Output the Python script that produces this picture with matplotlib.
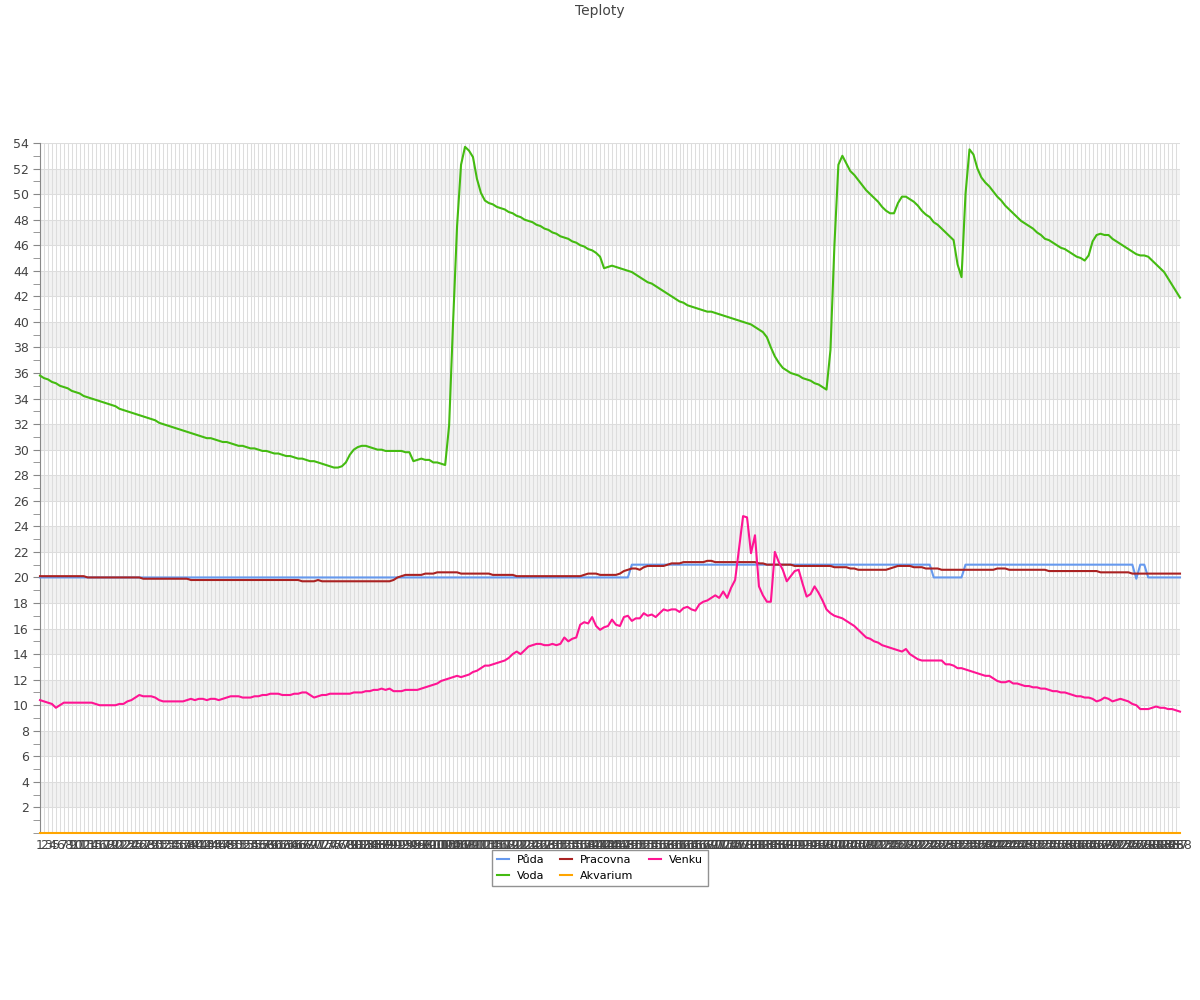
import matplotlib
matplotlib.use("Agg")
import matplotlib.pyplot as plt
import numpy as np
from matplotlib.ticker import MultipleLocator

plt.rcParams["font.family"] = "DejaVu Sans"

TEXT = "#444444"
GRID = "#dddddd"
BAND = "#f2f2f2"

LABELS = [str(i) for i in range(1, 289)]

VODA = [
    35.8, 35.6, 35.5, 35.3, 35.2, 35.0, 34.9, 34.8, 34.6, 34.5,
    34.4, 34.2, 34.1, 34.0, 33.9, 33.8, 33.7, 33.6, 33.5, 33.4,
    33.2, 33.1, 33.0, 32.9, 32.8, 32.7, 32.6, 32.5, 32.4, 32.3,
    32.1, 32.0, 31.9, 31.8, 31.7, 31.6, 31.5, 31.4, 31.3, 31.2,
    31.1, 31.0, 30.9, 30.9, 30.8, 30.7, 30.6, 30.6, 30.5, 30.4,
    30.3, 30.3, 30.2, 30.1, 30.1, 30.0, 29.9, 29.9, 29.8, 29.7,
    29.7, 29.6, 29.5, 29.5, 29.4, 29.3, 29.3, 29.2, 29.1, 29.1,
    29.0, 28.9, 28.8, 28.7, 28.6, 28.6, 28.7, 29.0, 29.6, 30.0,
    30.2, 30.3, 30.3, 30.2, 30.1, 30.0, 30.0, 29.9, 29.9, 29.9,
    29.9, 29.9, 29.8, 29.8, 29.1, 29.2, 29.3, 29.2, 29.2, 29.0,
    29.0, 28.9, 28.8, 31.9, 40.0, 47.5, 52.3, 53.7, 53.4, 52.9,
    51.2, 50.1, 49.5, 49.3, 49.2, 49.0, 48.9, 48.8, 48.6, 48.5,
    48.3, 48.2, 48.0, 47.9, 47.8, 47.6, 47.5, 47.3, 47.2, 47.0,
    46.9, 46.7, 46.6, 46.5, 46.3, 46.2, 46.0, 45.9, 45.7, 45.6,
    45.4, 45.1, 44.2, 44.3, 44.4, 44.3, 44.2, 44.1, 44.0, 43.9,
    43.7, 43.5, 43.3, 43.1, 43.0, 42.8, 42.6, 42.4, 42.2, 42.0,
    41.8, 41.6, 41.5, 41.3, 41.2, 41.1, 41.0, 40.9, 40.8, 40.8,
    40.7, 40.6, 40.5, 40.4, 40.3, 40.2, 40.1, 40.0, 39.9, 39.8,
    39.6, 39.4, 39.2, 38.8, 38.0, 37.3, 36.8, 36.4, 36.2, 36.0,
    35.9, 35.8, 35.6, 35.5, 35.4, 35.2, 35.1, 34.9, 34.7, 37.8,
    46.0, 52.3, 53.0, 52.4, 51.8, 51.5, 51.1, 50.7, 50.3, 50.0,
    49.7, 49.4, 49.0, 48.7, 48.5, 48.5, 49.3, 49.8, 49.8, 49.6,
    49.4, 49.1, 48.7, 48.4, 48.2, 47.8, 47.6, 47.3, 47.0, 46.7,
    46.4, 44.5, 43.5, 50.0, 53.5, 53.1, 52.0, 51.3, 50.9, 50.6,
    50.2, 49.8, 49.5, 49.1, 48.8, 48.5, 48.2, 47.9, 47.7, 47.5,
    47.3, 47.0, 46.8, 46.5, 46.4, 46.2, 46.0, 45.8, 45.7, 45.5,
    45.3, 45.1, 45.0, 44.8, 45.2, 46.3, 46.8, 46.9, 46.8, 46.8,
    46.5, 46.3, 46.1, 45.9, 45.7, 45.5, 45.3, 45.2, 45.2, 45.1,
    44.8, 44.5, 44.2, 43.9, 43.4, 42.9, 42.4, 41.9,
]

VENKU = [
    10.4, 10.3, 10.2, 10.1, 9.8, 10.0, 10.2, 10.2, 10.2, 10.2,
    10.2, 10.2, 10.2, 10.2, 10.1, 10.0, 10.0, 10.0, 10.0, 10.0,
    10.1, 10.1, 10.3, 10.4, 10.6, 10.8, 10.7, 10.7, 10.7, 10.6,
    10.4, 10.3, 10.3, 10.3, 10.3, 10.3, 10.3, 10.4, 10.5, 10.4,
    10.5, 10.5, 10.4, 10.5, 10.5, 10.4, 10.5, 10.6, 10.7, 10.7,
    10.7, 10.6, 10.6, 10.6, 10.7, 10.7, 10.8, 10.8, 10.9, 10.9,
    10.9, 10.8, 10.8, 10.8, 10.9, 10.9, 11.0, 11.0, 10.8, 10.6,
    10.7, 10.8, 10.8, 10.9, 10.9, 10.9, 10.9, 10.9, 10.9, 11.0,
    11.0, 11.0, 11.1, 11.1, 11.2, 11.2, 11.3, 11.2, 11.3, 11.1,
    11.1, 11.1, 11.2, 11.2, 11.2, 11.2, 11.3, 11.4, 11.5, 11.6,
    11.7, 11.9, 12.0, 12.1, 12.2, 12.3, 12.2, 12.3, 12.4, 12.6,
    12.7, 12.9, 13.1, 13.1, 13.2, 13.3, 13.4, 13.5, 13.7, 14.0,
    14.2, 14.0, 14.3, 14.6, 14.7, 14.8, 14.8, 14.7, 14.7, 14.8,
    14.7, 14.8, 15.3, 15.0, 15.2, 15.3, 16.3, 16.5, 16.4, 16.9,
    16.2, 15.9, 16.1, 16.2, 16.7, 16.3, 16.2, 16.9, 17.0, 16.6,
    16.8, 16.8, 17.2, 17.0, 17.1, 16.9, 17.2, 17.5, 17.4, 17.5,
    17.5, 17.3, 17.6, 17.7, 17.5, 17.4, 17.9, 18.1, 18.2, 18.4,
    18.6, 18.4, 18.9, 18.4, 19.2, 19.8, 22.3, 24.8, 24.7, 21.9,
    23.3, 19.3, 18.6, 18.1, 18.1, 22.0, 21.2, 20.6, 19.7, 20.1,
    20.5, 20.6, 19.5, 18.5, 18.7, 19.3, 18.8, 18.2, 17.5, 17.2,
    17.0, 16.9, 16.8, 16.6, 16.4, 16.2, 15.9, 15.6, 15.3, 15.2,
    15.0, 14.9, 14.7, 14.6, 14.5, 14.4, 14.3, 14.2, 14.4, 14.0,
    13.8, 13.6, 13.5, 13.5, 13.5, 13.5, 13.5, 13.5, 13.2, 13.2,
    13.1, 12.9, 12.9, 12.8, 12.7, 12.6, 12.5, 12.4, 12.3, 12.3,
    12.1, 11.9, 11.8, 11.8, 11.9, 11.7, 11.7, 11.6, 11.5, 11.5,
    11.4, 11.4, 11.3, 11.3, 11.2, 11.1, 11.1, 11.0, 11.0, 10.9,
    10.8, 10.7, 10.7, 10.6, 10.6, 10.5, 10.3, 10.4, 10.6, 10.5,
    10.3, 10.4, 10.5, 10.4, 10.3, 10.1, 10.0, 9.7, 9.7, 9.7,
    9.8, 9.9, 9.8, 9.8, 9.7, 9.7, 9.6, 9.5,
]

# (value, how many consecutive samples) - these series sit on flat steps
PUDA_RUNS = [(20.0, 149), (21.0, 76), (20.0, 8), (21.0, 43), (19.9, 1),
             (21.0, 2), (20.0, 9)]
PRACOVNA_RUNS = [
    (20.1, 12), (20.0, 14), (19.9, 12), (19.8, 28), (19.7, 4), (19.8, 1),
    (19.7, 18), (19.8, 1), (20.0, 1), (20.1, 1), (20.2, 5), (20.3, 3),
    (20.4, 6), (20.3, 8), (20.2, 6), (20.1, 17), (20.2, 1), (20.3, 3),
    (20.2, 5), (20.3, 1), (20.5, 1), (20.6, 1), (20.7, 2), (20.6, 1),
    (20.8, 1), (20.9, 5), (21.0, 1), (21.1, 3), (21.2, 6), (21.3, 2),
    (21.2, 11), (21.1, 2), (21.0, 7), (20.9, 10), (20.8, 4), (20.7, 2),
    (20.6, 8), (20.7, 1), (20.8, 1), (20.9, 4), (20.8, 3), (20.7, 4),
    (20.6, 14), (20.7, 3), (20.6, 10), (20.5, 13), (20.4, 8), (20.3, 13),
]
AKVARIUM = [0.0] * 288

puda = [v for v, n in PUDA_RUNS for _ in range(n)]
pracovna = [v for v, n in PRACOVNA_RUNS for _ in range(n)]
assert len(VODA) == len(VENKU) == len(puda) == len(pracovna) == 288

x = np.arange(len(LABELS))

fig = plt.figure(figsize=(12, 10), dpi=100)
ax = fig.add_axes([40 / 1200, 1 - 833 / 1000, 1140 / 1200, 690 / 1000])

# alternating horizontal bands + 1px grid
for lo in range(2, 54, 4):
    ax.axhspan(lo, lo + 2, color=BAND, lw=0, zorder=0)
for yv in range(2, 55, 2):
    ax.axhline(yv, color=GRID, lw=0.75, zorder=0.5)
for xv in x:
    ax.axvline(xv, color=GRID, lw=0.75, zorder=0.5)

series = [
    ("Půda", puda, "#6699ee"),
    ("Voda", VODA, "#44bb11"),
    ("Pracovna", pracovna, "#aa2222"),
    ("Akvarium", AKVARIUM, "#ffa500"),
    ("Venku", VENKU, "#ff1493"),
]
handles = {}
for name, vals, col in series:
    (h,) = ax.plot(x, vals, color=col, lw=1.5, label=name, zorder=3,
                   clip_on=False)
    handles[name] = h

ax.set_xlim(0, len(LABELS) - 1)
ax.set_ylim(0, 54)
ax.set_yticks(range(2, 55, 2))
ax.yaxis.set_minor_locator(MultipleLocator(1))
ax.set_xticks(x)
ax.set_xticklabels(LABELS, fontsize=9, color=TEXT)
ax.tick_params(axis="x", length=0, pad=4)
ax.tick_params(axis="y", which="major", length=5, color="#888888",
               labelsize=9, labelcolor=TEXT, pad=3)
ax.tick_params(axis="y", which="minor", length=5, color="#888888")

for s in ("top", "right", "bottom"):
    ax.spines[s].set_visible(False)
ax.spines["left"].set_color("#888888")

fig.text(0.5, 0.989, "Teploty", ha="center", va="center", fontsize=10, color=TEXT)

order = ["Půda", "Voda", "Pracovna", "Akvarium", "Venku"]
leg = fig.legend([handles[n] for n in order], order, ncol=3,
                 loc="upper center", bbox_to_anchor=(0.5, 0.150),
                 borderaxespad=0, fontsize=8, frameon=True, fancybox=False,
                 handlelength=1.1, columnspacing=1.4, handletextpad=0.7,
                 borderpad=0.45, labelspacing=0.5)
leg.get_frame().set_edgecolor("#777777")
leg.get_frame().set_linewidth(1)

fig.savefig("out.png", dpi=100, facecolor="white")
